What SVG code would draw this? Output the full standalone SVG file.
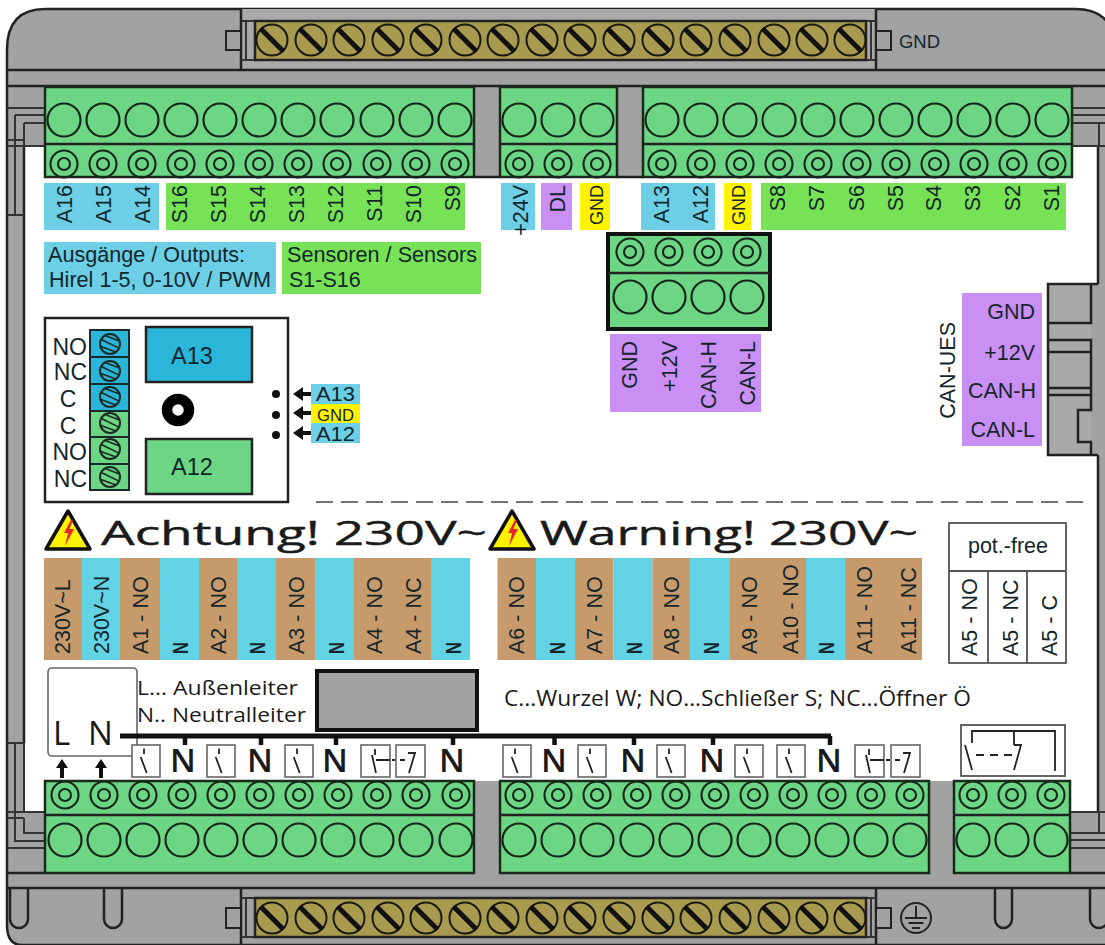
<svg xmlns="http://www.w3.org/2000/svg" width="1105" height="945" viewBox="0 0 1105 945">
<style>
.ln{fill:none;stroke:#222;stroke-width:2.5}
.th{fill:none;stroke:#333;stroke-width:2}
.gr{fill:#a2a2a2}
.grn{fill:#6dd685;stroke:#1a2a1c;stroke-width:2.5}
.t{font-family:"Liberation Sans",Arial,sans-serif;fill:#14262b;font-size:21.5px}
.o{font-family:"Open Sans","Liberation Sans",sans-serif;fill:#1a1a1a}
.e{text-anchor:end}
.m{text-anchor:middle}
.br{fill:#c79a6b}.bl{fill:#62d2e5}.bl2{fill:#6ccfe6}.sg{fill:#77e255}.pu{fill:#c98ff5}.ye{fill:#fff200}
.sw{fill:#fff;stroke:#666;stroke-width:1.6}
.sl{fill:none;stroke:#222;stroke-width:1.8}
.n{font-size:33px;text-anchor:middle;font-weight:600}
</style>
<defs>
<g id="big"><circle r="16.5" fill="none" stroke="#16261a" stroke-width="2.2"/></g>
<g id="small"><circle r="13.5" fill="none" stroke="#16261a" stroke-width="2.1"/><circle r="6" fill="none" stroke="#16261a" stroke-width="2.1"/></g>
<g id="screw"><circle r="15.5" fill="none" stroke="#1a1a10" stroke-width="2"/><path d="M-11.5-11.5L11.5 11.5" stroke="#111" stroke-width="5"/></g>
<g id="rscrew"><circle r="10" fill="none" stroke="#1a2a22" stroke-width="2"/><path d="M-8.5-3.5L6-8.5M-9 2L9-2.5M-6 8L9 2.5" transform="rotate(40)" fill="none" stroke="#1a2a22" stroke-width="1.6"/></g>
<g id="sw"><rect width="28" height="32" class="sw"/><path d="M12 3.5V9M8.700 12L14.700 28" class="sl"/></g>
<path id="ar" d="M0-2L-6 7H-2V17H2V7H6Z" fill="#111"/>
<path id="al" d="M0 0L10-7V-2H19V2H10V7Z" fill="#111"/>
<g id="tri"><path d="M0 0L22 38H-22Z" fill="#fff200" stroke="#111" stroke-width="3.5" stroke-linejoin="round"/><path d="M3 9L-4 22H0L-3 35L6 18H1.5L5 9Z" fill="#e8262a"/></g>
</defs>

<g id="housing">
<path d="M7 50Q7 9 45 9H1075Q1115 9 1115 50V945H22Q7 945 7 925Z" class="gr" stroke="#222" stroke-width="2.5"/>
<path d="M24 146H45V177H1072V146H1098V284H1048V455H1098V812H1070V781H45V812H24Z" fill="#fff"/>
<rect x="241" y="9" width="635" height="61" fill="#a9a9a9"/>
<path d="M7 70H1105M7 86H1105M241 9V70M876 9V70M241 888V945M876 888V945M7 888H1105M7 873H45M1070 873H1105M474 177H500M617 177H643" class="ln"/>
<path d="M24 146V743M1098 146V284M1098 455V812" class="ln"/>
<path d="M7 108H45M15 115H45M24 123H45M15 115V215M24 123V146M7 140H24M7 146H45M7 215H24M1072 108H1105M1072 115H1105M1072 123H1105M1099 123V146M1072 146H1105" class="th"/>
<path d="M15 743V818M7 743H24M24 743V812M7 812H45M7 818H24M15 818V841H45M24 818V833H45M7 848H45M1070 833H1105M1070 840H1105M1070 848H1105M1099 812V833M1070 812H1105" class="th"/>
<rect x="226" y="31" width="15" height="19" class="gr" stroke="#222" stroke-width="2"/>
<rect x="876" y="31" width="15" height="19" class="gr" stroke="#222" stroke-width="2"/>
<rect x="226" y="908" width="15" height="20" class="gr" stroke="#222" stroke-width="2"/>
<rect x="876" y="908" width="15" height="20" class="gr" stroke="#222" stroke-width="2"/>
<path d="M241 21H876M241 60H876M241 898H876M241 937H876M246 21V60M255 21V60M866 21V60M871 21V60M246 898V937M255 898V937M866 898V937M871 898V937" class="th"/>
<path d="M10 888V919A9 9 0 0 0 28 919V888M104 888V919A9 9 0 0 0 122 919V888M995 888V919A8.500 9 0 0 0 1012 919V888M1090 888V919A9 9 0 0 0 1108 919V888" class="ln"/>
<path d="M1048 284H1098V455H1048Z" fill="#a9a9a9"/>
<rect x="1091" y="284" width="14" height="171" class="gr"/>
<path d="M1098 284H1048V455H1098M1048 323H1091V284M1048 340H1091V410H1078V442H1091V455M1048 352H1091M1048 388H1091M1048 395H1091" class="ln"/>
</g>

<g id="top-strip">
<rect x="255" y="21" width="611" height="39" fill="#a89a4f" stroke="#222" stroke-width="2.5"/>
<use href="#screw" x="272" y="40"/><use href="#screw" x="311" y="40"/><use href="#screw" x="349" y="40"/><use href="#screw" x="388" y="40"/><use href="#screw" x="426" y="40"/><use href="#screw" x="465" y="40"/><use href="#screw" x="503" y="40"/><use href="#screw" x="542" y="40"/><use href="#screw" x="580" y="40"/><use href="#screw" x="619" y="40"/><use href="#screw" x="658" y="40"/><use href="#screw" x="696" y="40"/><use href="#screw" x="735" y="40"/><use href="#screw" x="774" y="40"/><use href="#screw" x="812" y="40"/><use href="#screw" x="850" y="40"/>
<text x="899" y="48" class="t" style="font-size:19px" textLength="41" lengthAdjust="spacingAndGlyphs">GND</text>
</g>
<g id="bottom-strip">
<rect x="255" y="898" width="611" height="39" fill="#a89a4f" stroke="#222" stroke-width="2.500"/>
<use href="#screw" x="272" y="918"/><use href="#screw" x="311" y="918"/><use href="#screw" x="349" y="918"/><use href="#screw" x="388" y="918"/><use href="#screw" x="426" y="918"/><use href="#screw" x="465" y="918"/><use href="#screw" x="503" y="918"/><use href="#screw" x="542" y="918"/><use href="#screw" x="580" y="918"/><use href="#screw" x="619" y="918"/><use href="#screw" x="658" y="918"/><use href="#screw" x="696" y="918"/><use href="#screw" x="735" y="918"/><use href="#screw" x="774" y="918"/><use href="#screw" x="812" y="918"/><use href="#screw" x="850" y="918"/>
<g fill="none" stroke="#222" stroke-width="2"><circle cx="916" cy="918" r="15"/><path d="M916 906V918M905 918H927M908.500 923H923.500M912 928H920"/></g>
</g>

<g id="block-top-left">
<rect x="45" y="87" width="429" height="90" class="grn"/><path d="M45 144H474" class="ln"/>
<use href="#big" x="64" y="120"/><use href="#big" x="103" y="120"/><use href="#big" x="142" y="120"/><use href="#big" x="181" y="120"/><use href="#big" x="220" y="120"/><use href="#big" x="259" y="120"/><use href="#big" x="298" y="120"/><use href="#big" x="337" y="120"/><use href="#big" x="377" y="120"/><use href="#big" x="416" y="120"/><use href="#big" x="455" y="120"/>
<use href="#small" x="64" y="164"/><use href="#small" x="103" y="164"/><use href="#small" x="142" y="164"/><use href="#small" x="181" y="164"/><use href="#small" x="220" y="164"/><use href="#small" x="259" y="164"/><use href="#small" x="298" y="164"/><use href="#small" x="337" y="164"/><use href="#small" x="377" y="164"/><use href="#small" x="416" y="164"/><use href="#small" x="455" y="164"/>
</g>
<g id="block-top-mid">
<rect x="500" y="87" width="117" height="90" class="grn"/><path d="M500 144H617" class="ln"/>
<use href="#big" x="519" y="120"/><use href="#big" x="558" y="120"/><use href="#big" x="597" y="120"/>
<use href="#small" x="519" y="164"/><use href="#small" x="558" y="164"/><use href="#small" x="597" y="164"/>
</g>
<g id="block-top-right">
<rect x="643" y="87" width="429" height="90" class="grn"/><path d="M643 144H1072" class="ln"/>
<use href="#big" x="662" y="120"/><use href="#big" x="701" y="120"/><use href="#big" x="740" y="120"/><use href="#big" x="779" y="120"/><use href="#big" x="818" y="120"/><use href="#big" x="857" y="120"/><use href="#big" x="896" y="120"/><use href="#big" x="935" y="120"/><use href="#big" x="974" y="120"/><use href="#big" x="1013" y="120"/><use href="#big" x="1052" y="120"/>
<use href="#small" x="662" y="164"/><use href="#small" x="701" y="164"/><use href="#small" x="740" y="164"/><use href="#small" x="779" y="164"/><use href="#small" x="818" y="164"/><use href="#small" x="857" y="164"/><use href="#small" x="896" y="164"/><use href="#small" x="935" y="164"/><use href="#small" x="974" y="164"/><use href="#small" x="1013" y="164"/><use href="#small" x="1052" y="164"/>
</g>

<g id="labels-top">
<rect x="44" y="183" width="115" height="47" class="bl2"/>
<rect x="166" y="183" width="299" height="47" class="sg"/>
<rect x="501" y="183" width="34" height="47" class="bl2"/>
<rect x="541" y="183" width="31" height="47" class="pu"/>
<rect x="580" y="183" width="30" height="47" class="ye"/>
<rect x="641" y="183" width="74" height="47" class="bl2"/>
<rect x="724" y="183" width="27" height="47" class="ye"/>
<rect x="761" y="183" width="305" height="47" class="sg"/>
<g class="t e">
<text transform="rotate(-90 72 185)" x="72" y="185">A16</text>
<text transform="rotate(-90 111 185)" x="111" y="185">A15</text>
<text transform="rotate(-90 150 185)" x="150" y="185">A14</text>
<text transform="rotate(-90 187 185)" x="187" y="185">S16</text>
<text transform="rotate(-90 226 185)" x="226" y="185">S15</text>
<text transform="rotate(-90 265 185)" x="265" y="185">S14</text>
<text transform="rotate(-90 304 185)" x="304" y="185">S13</text>
<text transform="rotate(-90 343 185)" x="343" y="185">S12</text>
<text transform="rotate(-90 382 185)" x="382" y="185">S11</text>
<text transform="rotate(-90 421 185)" x="421" y="185">S10</text>
<text transform="rotate(-90 460 185)" x="460" y="185">S9</text>
<text transform="rotate(-90 527.500 185)" x="527.500" y="185">+24V</text>
<text transform="rotate(-90 564.500 185)" x="564.500" y="185">DL</text>
<text transform="rotate(-90 603 185)" x="603" y="185" style="font-size:18px">GND</text>
<text transform="rotate(-90 668.500 185)" x="668.500" y="185">A13</text>
<text transform="rotate(-90 707.500 185)" x="707.500" y="185">A12</text>
<text transform="rotate(-90 745 185)" x="745" y="185" style="font-size:18px">GND</text>
<text transform="rotate(-90 785 185)" x="785" y="185">S8</text>
<text transform="rotate(-90 824 185)" x="824" y="185">S7</text>
<text transform="rotate(-90 863.500 185)" x="863.500" y="185">S6</text>
<text transform="rotate(-90 902.500 185)" x="902.500" y="185">S5</text>
<text transform="rotate(-90 941 185)" x="941" y="185">S4</text>
<text transform="rotate(-90 980 185)" x="980" y="185">S3</text>
<text transform="rotate(-90 1019.500 185)" x="1019.500" y="185">S2</text>
<text transform="rotate(-90 1059 185)" x="1059" y="185">S1</text>
</g>
</g>

<g id="legend">
<rect x="44" y="242" width="232" height="52" class="bl2"/>
<rect x="282" y="242" width="199" height="52" class="sg"/>
<text x="48" y="262" class="t" textLength="197" lengthAdjust="spacingAndGlyphs">Ausgänge / Outputs:</text>
<text x="49" y="287" class="t" textLength="222" lengthAdjust="spacingAndGlyphs">Hirel 1-5, 0-10V / PWM</text>
<text x="287" y="262" class="t" textLength="190" lengthAdjust="spacingAndGlyphs">Sensoren / Sensors</text>
<text x="289" y="287" class="t">S1-S16</text>
</g>

<g id="can-block">
<rect x="608" y="234" width="162" height="95" fill="#6dd685" stroke="#111" stroke-width="4"/>
<path d="M608 273H770" class="ln"/>
<use href="#small" x="630" y="252"/><use href="#small" x="669" y="252"/><use href="#small" x="708" y="252"/><use href="#small" x="747" y="252"/>
<use href="#big" x="630" y="297"/><use href="#big" x="669" y="297"/><use href="#big" x="708" y="297"/><use href="#big" x="747" y="297"/>
<rect x="610" y="334" width="151" height="78" class="pu"/>
<g class="t e">
<text transform="rotate(-90 636.500 341)" x="636.500" y="341">GND</text>
<text transform="rotate(-90 676.500 341)" x="676.500" y="341">+12V</text>
<text transform="rotate(-90 715.500 341)" x="715.500" y="341">CAN-H</text>
<text transform="rotate(-90 754.500 341)" x="754.500" y="341">CAN-L</text>
</g>
</g>

<g id="can-ues">
<rect x="962" y="293" width="80" height="153" class="pu"/>
<text transform="rotate(-90 955 322)" x="955" y="322" class="t e">CAN-UES</text>
<g class="t e">
<text x="1035" y="319">GND</text>
<text x="1035" y="360">+12V</text>
<text x="1036" y="398">CAN-H</text>
<text x="1035" y="437">CAN-L</text>
</g>
</g>

<g id="relay">
<rect x="45" y="318" width="243" height="184" fill="#fff" stroke="#222" stroke-width="2.500"/>
<rect x="90" y="330" width="39" height="27" fill="#29b6d8" stroke="#1a2a2a" stroke-width="2"/>
<rect x="90" y="357" width="39" height="27" fill="#29b6d8" stroke="#1a2a2a" stroke-width="2"/>
<rect x="90" y="384" width="39" height="27" fill="#29b6d8" stroke="#1a2a2a" stroke-width="2"/>
<rect x="90" y="411" width="39" height="26" fill="#6dd685" stroke="#1a2a2a" stroke-width="2"/>
<rect x="90" y="437" width="39" height="27" fill="#6dd685" stroke="#1a2a2a" stroke-width="2"/>
<rect x="90" y="464" width="39" height="26" fill="#6dd685" stroke="#1a2a2a" stroke-width="2"/>
<use href="#rscrew" x="110" y="344"/><use href="#rscrew" x="110" y="371"/><use href="#rscrew" x="110" y="397"/><use href="#rscrew" x="110" y="423"/><use href="#rscrew" x="110" y="449"/><use href="#rscrew" x="110" y="477"/>
<g class="t" style="font-size:23px">
<text x="87" y="355" class="e">NO</text><text x="87" y="380" class="e">NC</text><text x="68" y="407" class="m">C</text><text x="68" y="434" class="m">C</text><text x="87" y="460" class="e">NO</text><text x="87" y="487" class="e">NC</text>
</g>
<rect x="146" y="327" width="106" height="55" fill="#29b6d8" stroke="#222" stroke-width="2.500"/>
<rect x="146" y="439" width="106" height="55" fill="#6dd685" stroke="#222" stroke-width="2.500"/>
<text x="192" y="364" class="t m" style="font-size:23.500px">A13</text>
<text x="192" y="475" class="t m" style="font-size:23.500px">A12</text>
<circle cx="178" cy="410" r="11" fill="none" stroke="#000" stroke-width="10.500"/>
<circle cx="276" cy="394" r="4" fill="#111"/><circle cx="276" cy="415" r="4" fill="#111"/><circle cx="276" cy="435" r="4" fill="#111"/>
<use href="#al" x="293" y="394"/><use href="#al" x="293" y="413"/><use href="#al" x="293" y="433"/>
<rect x="311" y="384" width="49" height="59" class="bl2"/>
<rect x="311" y="404" width="49" height="19" class="ye"/>
<text x="316" y="401" class="t" style="font-size:20px" textLength="39" lengthAdjust="spacingAndGlyphs">A13</text>
<text x="317" y="421" class="t" style="font-size:17px" textLength="37" lengthAdjust="spacingAndGlyphs">GND</text>
<text x="316" y="441" class="t" style="font-size:20px" textLength="39" lengthAdjust="spacingAndGlyphs">A12</text>
</g>

<path id="divider" d="M316 502H1090" fill="none" stroke="#444" stroke-width="1.500" stroke-dasharray="17 8"/>

<g id="warnings">
<use href="#tri" x="68" y="511"/>
<text x="101" y="545" class="o" style="font-size:32px;stroke:#1a1a1a;stroke-width:.4" textLength="386" lengthAdjust="spacingAndGlyphs">Achtung! 230V~</text>
<use href="#tri" x="512" y="511"/>
<text x="540" y="545" class="o" style="font-size:32px;stroke:#1a1a1a;stroke-width:.4" textLength="378" lengthAdjust="spacingAndGlyphs">Warning! 230V~</text>
</g>

<g id="labels-power-left">
<rect x="44" y="558" width="38" height="102" class="br"/><rect x="82" y="558" width="38" height="102" class="bl"/><rect x="120" y="558" width="40" height="102" class="br"/><rect x="160" y="558" width="39" height="102" class="bl"/><rect x="199" y="558" width="38" height="102" class="br"/><rect x="237" y="558" width="39" height="102" class="bl"/><rect x="276" y="558" width="39" height="102" class="br"/><rect x="315" y="558" width="39" height="102" class="bl"/><rect x="354" y="558" width="77" height="102" class="br"/><rect x="431" y="558" width="39" height="102" class="bl"/>
<g class="t">
<text transform="rotate(-90 69.500 654)" x="69.500" y="654">230V~L</text>
<text transform="rotate(-90 108.500 654)" x="108.500" y="654">230V~N</text>
<text transform="rotate(-90 147.500 654)" x="147.500" y="654">A1 - NO</text>
<text transform="rotate(-90 187.500 654)" x="187.500" y="654" font-weight="bold" textLength="12" lengthAdjust="spacingAndGlyphs">N</text>
<text transform="rotate(-90 225.500 654)" x="225.500" y="654">A2 - NO</text>
<text transform="rotate(-90 264.500 654)" x="264.500" y="654" font-weight="bold" textLength="12" lengthAdjust="spacingAndGlyphs">N</text>
<text transform="rotate(-90 303.500 654)" x="303.500" y="654">A3 - NO</text>
<text transform="rotate(-90 343.500 654)" x="343.500" y="654" font-weight="bold" textLength="12" lengthAdjust="spacingAndGlyphs">N</text>
<text transform="rotate(-90 381.500 654)" x="381.500" y="654">A4 - NO</text>
<text transform="rotate(-90 420.500 654)" x="420.500" y="654">A4 - NC</text>
<text transform="rotate(-90 460.500 654)" x="460.500" y="654" font-weight="bold" textLength="12" lengthAdjust="spacingAndGlyphs">N</text>
</g>
</g>

<g id="labels-power-right">
<rect x="497.500" y="558" width="38.500" height="102" class="br"/><rect x="536" y="558" width="39" height="102" class="bl"/><rect x="575" y="558" width="38.500" height="102" class="br"/><rect x="613.500" y="558" width="39" height="102" class="bl"/><rect x="652.500" y="558" width="37.500" height="102" class="br"/><rect x="690" y="558" width="40" height="102" class="bl"/><rect x="730" y="558" width="76" height="102" class="br"/><rect x="806" y="558" width="39" height="102" class="bl"/><rect x="845" y="558" width="77" height="102" class="br"/>
<g class="t">
<text transform="rotate(-90 524 654)" x="524" y="654">A6 - NO</text>
<text transform="rotate(-90 564.500 654)" x="564.500" y="654" font-weight="bold" textLength="12" lengthAdjust="spacingAndGlyphs">N</text>
<text transform="rotate(-90 601.500 654)" x="601.500" y="654">A7 - NO</text>
<text transform="rotate(-90 642 654)" x="642" y="654" font-weight="bold" textLength="12" lengthAdjust="spacingAndGlyphs">N</text>
<text transform="rotate(-90 678.500 654)" x="678.500" y="654">A8 - NO</text>
<text transform="rotate(-90 718.500 654)" x="718.500" y="654" font-weight="bold" textLength="12" lengthAdjust="spacingAndGlyphs">N</text>
<text transform="rotate(-90 756.500 654)" x="756.500" y="654">A9 - NO</text>
<text transform="rotate(-90 797.500 654)" x="797.500" y="654">A10 - NO</text>
<text transform="rotate(-90 834 654)" x="834" y="654" font-weight="bold" textLength="12" lengthAdjust="spacingAndGlyphs">N</text>
<text transform="rotate(-90 871.500 654)" x="871.500" y="654">A11 - NO</text>
<text transform="rotate(-90 915.500 654)" x="915.500" y="654">A11 - NC</text>
</g>
</g>

<g id="pot-free">
<rect x="949" y="523" width="117" height="140" fill="#fff" stroke="#555" stroke-width="1.800"/>
<path d="M949 571H1066M988 571V663M1027 571V663" fill="none" stroke="#555" stroke-width="1.800"/>
<text x="1008" y="553" class="t m">pot.-free</text>
<g class="t">
<text transform="rotate(-90 976.500 656)" x="976.500" y="656">A5 - NO</text>
<text transform="rotate(-90 1017.500 656)" x="1017.500" y="656">A5 - NC</text>
<text transform="rotate(-90 1056.500 656)" x="1056.500" y="656">A5 - C</text>
</g>
</g>

<g id="legend-wiring">
<text x="137" y="695" class="o" style="font-size:20px" textLength="161" lengthAdjust="spacingAndGlyphs">L... Außenleiter</text>
<text x="137" y="722" class="o" style="font-size:20px" textLength="169" lengthAdjust="spacingAndGlyphs">N.. Neutralleiter</text>
<rect x="317" y="671" width="160" height="59" fill="#a2a2a2" stroke="#111" stroke-width="4"/>
<text x="504" y="706" class="o" style="font-size:21px" textLength="467" lengthAdjust="spacingAndGlyphs">C...Wurzel W; NO...Schließer S; NC...Öffner Ö</text>
</g>

<g id="ln-box">
<rect x="48" y="668" width="89" height="88" rx="4" fill="none" stroke="#666" stroke-width="1.600"/>
<text x="53" y="745" class="o" style="font-size:33px">L</text>
<text x="88" y="745" class="o" style="font-size:33px">N</text>
</g>

<g id="connectors">
<path d="M120 736H831" fill="none" stroke="#111" stroke-width="5"/>
<path d="M185 736V745M261 736V745M336 736V745M453 736V745M554.500 736V745M634 736V745M713 736V745M830 736V745" fill="none" stroke="#111" stroke-width="4.500"/>
<use href="#ar" x="62" y="761"/><use href="#ar" x="101" y="761"/>
</g>

<g id="switches">
<use href="#sw" x="132" y="745"/><use href="#sw" x="207" y="745"/><use href="#sw" x="285" y="745"/>
<use href="#sw" x="503" y="745"/><use href="#sw" x="578" y="745"/><use href="#sw" x="657" y="745"/><use href="#sw" x="735" y="745"/><use href="#sw" x="777" y="745"/>
<g id="sw-a4"><rect x="361" y="745" width="29" height="32" class="sw"/><rect x="396" y="745" width="29" height="32" class="sw"/><path d="M375 749V755M372 755L376 773M376 760H390M392 760H395M400 760H405M408 753H415L409 773" class="sl"/></g>
<g id="sw-a11"><rect x="855" y="745" width="29" height="32" class="sw"/><rect x="891" y="745" width="29" height="32" class="sw"/><path d="M869 749V755M866 755L870 773M870 760H884M886 760H890M895 760H900M903 753H910L904 773" class="sl"/></g>
<g class="o n">
<text x="183" y="772">N</text><text x="260" y="772">N</text><text x="335" y="772">N</text><text x="452" y="772">N</text>
<text x="554" y="772">N</text><text x="633" y="772">N</text><text x="712" y="772">N</text><text x="829" y="772">N</text>
</g>
</g>

<g id="pot-symbol">
<rect x="961" y="725" width="104" height="51" fill="#fff" stroke="#555" stroke-width="1.800"/>
<path d="M972 743V731H1055V771M1014 731V745" class="sl"/>
<path d="M965 745L972 770M976 755H984M990 755H998M1004 755H1012M1014 745H1021L1014 770" class="sl"/>
</g>

<g id="block-bottom-left">
<rect x="45" y="781" width="429" height="92" class="grn"/><path d="M45 815H474" class="ln"/>
<use href="#small" x="65" y="795"/><use href="#small" x="104" y="795"/><use href="#small" x="143" y="795"/><use href="#small" x="182" y="795"/><use href="#small" x="221" y="795"/><use href="#small" x="260" y="795"/><use href="#small" x="299" y="795"/><use href="#small" x="338" y="795"/><use href="#small" x="377" y="795"/><use href="#small" x="416" y="795"/><use href="#small" x="456" y="795"/>
<use href="#big" x="65" y="840"/><use href="#big" x="104" y="840"/><use href="#big" x="143" y="840"/><use href="#big" x="182" y="840"/><use href="#big" x="221" y="840"/><use href="#big" x="260" y="840"/><use href="#big" x="299" y="840"/><use href="#big" x="338" y="840"/><use href="#big" x="377" y="840"/><use href="#big" x="416" y="840"/><use href="#big" x="456" y="840"/>
</g>
<g id="block-bottom-mid">
<rect x="500" y="781" width="429" height="92" class="grn"/><path d="M500 815H929" class="ln"/>
<use href="#small" x="519" y="795"/><use href="#small" x="558" y="795"/><use href="#small" x="597" y="795"/><use href="#small" x="637" y="795"/><use href="#small" x="676" y="795"/><use href="#small" x="715" y="795"/><use href="#small" x="754" y="795"/><use href="#small" x="793" y="795"/><use href="#small" x="832" y="795"/><use href="#small" x="871" y="795"/><use href="#small" x="910" y="795"/>
<use href="#big" x="519" y="840"/><use href="#big" x="558" y="840"/><use href="#big" x="597" y="840"/><use href="#big" x="637" y="840"/><use href="#big" x="676" y="840"/><use href="#big" x="715" y="840"/><use href="#big" x="754" y="840"/><use href="#big" x="793" y="840"/><use href="#big" x="832" y="840"/><use href="#big" x="871" y="840"/><use href="#big" x="910" y="840"/>
</g>
<g id="block-bottom-right">
<rect x="954" y="781" width="116" height="92" class="grn"/><path d="M954 815H1070" class="ln"/>
<use href="#small" x="973" y="795"/><use href="#small" x="1012" y="795"/><use href="#small" x="1051" y="795"/>
<use href="#big" x="973" y="840"/><use href="#big" x="1012" y="840"/><use href="#big" x="1051" y="840"/>
</g>
</svg>
